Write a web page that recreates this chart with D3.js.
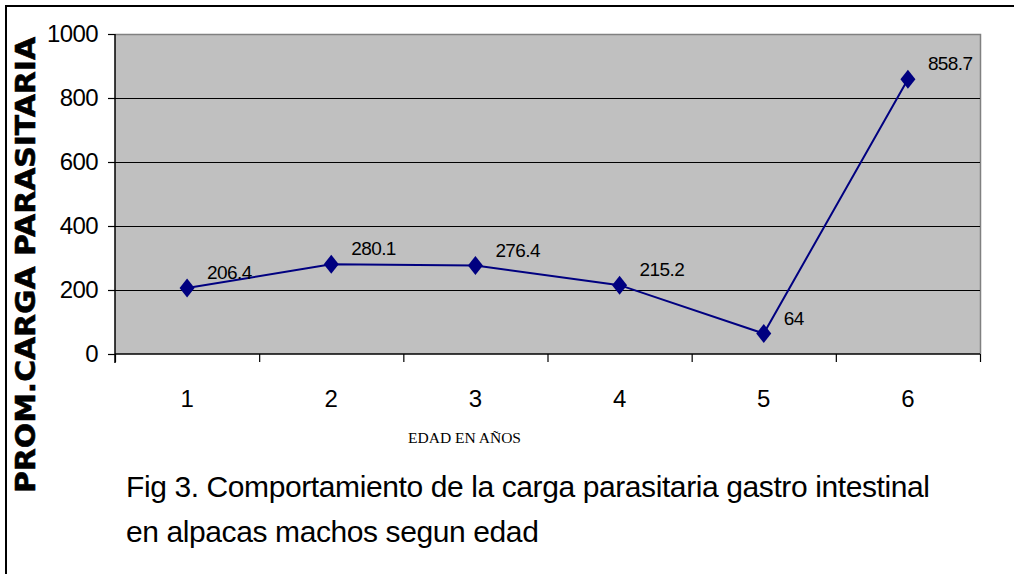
<!DOCTYPE html>
<html>
<head>
<meta charset="utf-8">
<script src="https://cdn.jsdelivr.net/npm/d3@7"></script>
<style>
  html, body { margin: 0; padding: 0; background: #fff; }
  svg { display: block; }
  text { font-family: "Liberation Sans", Arial, sans-serif; fill: #000; }
</style>
</head>
<body>
<svg id="chart" width="1014" height="574"></svg>
<script>
// Average parasite load by age (years)
const edades = ["1", "2", "3", "4", "5", "6"];
const promedios = [206.4, 280.1, 276.4, 215.2, 64, 858.7];
const yTicks = [0, 200, 400, 600, 800, 1000];
const yTitle = "PROM.CARGA PARASITARIA";
const xTitle = "EDAD EN AÑOS";
const caption = [
  "Fig 3. Comportamiento de la carga parasitaria gastro intestinal",
  "en alpacas machos segun edad"
];

const svg = d3.select("#chart");
const W = 1014, H = 574;
const plot = { left: 115, right: 980, top: 34, bottom: 354 };

// outer frame (top and left edges visible)
svg.append("path")
  .attr("d", `M6,${H + 2} L6,6 L${W + 2},6`)
  .attr("fill", "none").attr("stroke", "#000").attr("stroke-width", 2);

const x = d3.scaleBand().domain(edades).range([plot.left, plot.right]).padding(0);
const xEdges = d3.scaleLinear().domain([0, edades.length]).range([plot.left, plot.right]);
const y = d3.scaleLinear().domain([0, 1000]).range([plot.bottom, plot.top]);

// plot area
svg.append("rect")
  .attr("x", plot.left).attr("y", plot.top)
  .attr("width", plot.right - plot.left).attr("height", plot.bottom - plot.top)
  .attr("fill", "#c0c0c0");
// grey frame on top and right
svg.append("path")
  .attr("d", `M${plot.left},${plot.top + 0.5} L${plot.right + 0.5},${plot.top + 0.5} L${plot.right + 0.5},${plot.bottom}`)
  .attr("fill", "none").attr("stroke", "#808080").attr("stroke-width", 1.5);

// horizontal gridlines
svg.append("g").selectAll("line")
  .data(yTicks.filter(d => d > 0 && d < 1000))
  .join("line")
  .attr("x1", plot.left).attr("x2", plot.right)
  .attr("y1", d => Math.round(y(d)) + 0.5).attr("y2", d => Math.round(y(d)) + 0.5)
  .attr("stroke", "#000").attr("stroke-width", 1.2);

// y axis
const yAxis = svg.append("g")
  .attr("transform", `translate(${plot.left},0)`)
  .call(d3.axisLeft(y).tickValues(yTicks).tickSize(7).tickPadding(10).tickFormat(d3.format("d")));
yAxis.select(".domain").attr("stroke", "#000").attr("stroke-width", 1.5)
  .attr("d", `M0,${plot.top}V${plot.bottom + 9}`);
yAxis.selectAll(".tick line").attr("stroke", "#000").attr("stroke-width", 1.2);
yAxis.selectAll(".tick text")
  .style("font-family", '"Liberation Sans", Arial, sans-serif')
  .style("font-size", "24px").style("letter-spacing", "-0.6px").attr("fill", "#000");

// x axis: tick marks at category boundaries
const xAxisMarks = svg.append("g")
  .attr("transform", `translate(0,${plot.bottom})`)
  .call(d3.axisBottom(xEdges).tickValues(d3.range(edades.length + 1)).tickSize(8).tickFormat(""));
xAxisMarks.select(".domain").attr("stroke", "#000").attr("stroke-width", 1.5)
  .attr("d", `M${plot.left},0H${plot.right}`);
xAxisMarks.selectAll(".tick line").attr("stroke", "#000").attr("stroke-width", 1.2);

// x axis: category labels centred in each band
const xAxisLabels = svg.append("g")
  .attr("transform", `translate(0,${plot.bottom})`)
  .call(d3.axisBottom(x).tickSize(0).tickPadding(36));
xAxisLabels.select(".domain").remove();
xAxisLabels.selectAll(".tick text")
  .style("font-family", '"Liberation Sans", Arial, sans-serif')
  .style("font-size", "24px").attr("fill", "#000");

// series line
const line = d3.line()
  .x((d, i) => x(edades[i]) + x.bandwidth() / 2)
  .y(d => y(d));
svg.append("path")
  .datum(promedios)
  .attr("d", line)
  .attr("fill", "none").attr("stroke", "#000080").attr("stroke-width", 2);

// diamond markers
svg.append("g").selectAll("path")
  .data(promedios)
  .join("path")
  .attr("transform", (d, i) => `translate(${x(edades[i]) + x.bandwidth() / 2},${y(d)})`)
  .attr("d", "M0,-9.5L7.5,0L0,9.5L-7.5,0Z")
  .attr("fill", "#000080");

// value labels
svg.append("g").selectAll("text")
  .data(promedios)
  .join("text")
  .attr("x", (d, i) => x(edades[i]) + x.bandwidth() / 2 + 20)
  .attr("y", d => y(d) - 9)
  .style("font-size", "19px").style("letter-spacing", "-0.6px")
  .text(d => d);

// y title
svg.append("text")
  .attr("transform", "translate(35,265) rotate(-90)")
  .attr("text-anchor", "middle")
  .attr("textLength", 456).attr("lengthAdjust", "spacingAndGlyphs")
  .style("font-family", '"DejaVu Sans", Verdana, sans-serif')
  .style("font-weight", "bold").style("font-size", "26px")
  .attr("stroke", "#000").attr("stroke-width", 0.6)
  .text(yTitle);

// x title
svg.append("text")
  .attr("x", 408).attr("y", 443)
  .attr("textLength", 113).attr("lengthAdjust", "spacingAndGlyphs")
  .style("font-family", '"Liberation Serif", "Times New Roman", serif')
  .style("font-size", "15px")
  .text(xTitle);

// caption
svg.append("g").selectAll("text")
  .data(caption)
  .join("text")
  .attr("x", 126)
  .attr("y", (d, i) => 497 + i * 45)
  .style("font-size", "30px").style("letter-spacing", "-0.4px")
  .text(d => d);
</script>
</body>
</html>
